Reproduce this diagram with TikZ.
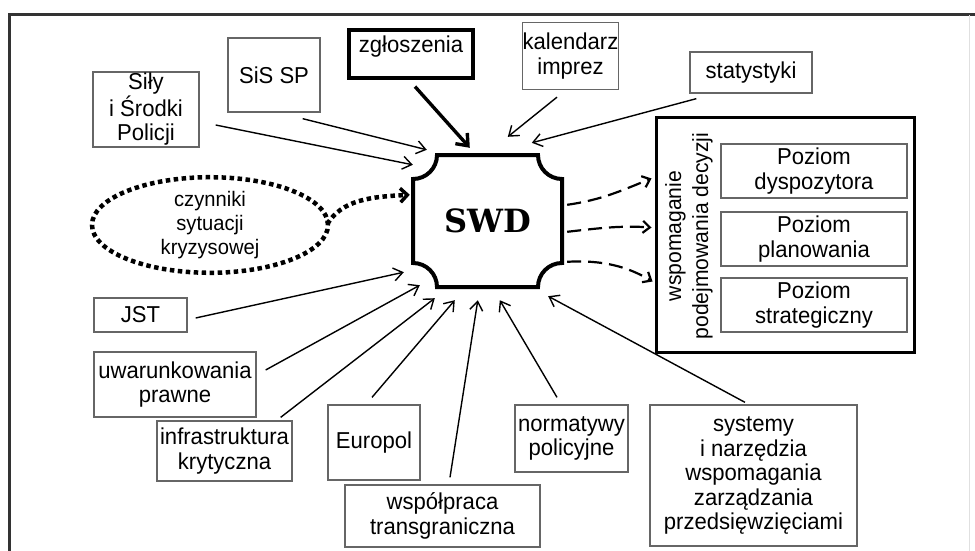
\documentclass[tikz,border=0pt]{standalone}
\usepackage{fontspec}
\setmainfont{Liberation Sans}[FakeStretch=0.96]
\newfontfamily\swdfont{DejaVu Serif}
\usetikzlibrary{arrows.meta,calc,shapes.geometric}
\begin{document}
\begin{tikzpicture}[x=1pt,y=-1pt,
  box/.style={draw=black!60, line width=1.3pt, rectangle, align=center, inner sep=0pt,
    font=\fontsize{23}{24.5}\selectfont},
  thickbox/.style={draw=black, line width=3.2pt, rectangle, inner sep=0pt},
  thinarr/.style={line width=1.4pt, -{Straight Barb[length=9pt,width=13pt,line width=1.4pt]}},
  boldarr/.style={line width=3.4pt, -{Straight Barb[length=10pt,width=16pt,line width=3.4pt]}},
  dasharr/.style={line width=2.2pt, dash pattern=on 14pt off 7pt, -{Straight Barb[length=7pt,width=12pt,line width=2.2pt]}},
  dotline/.style={line width=4.5pt, dash pattern=on 4.5pt off 3.5pt},
]
\useasboundingbox (0,0) rectangle (975,551);
% frame
\draw[line width=3pt, black!80] (9,551) -- (9,15) -- (975,15);
\draw[line width=1pt, black!12] (969,15) -- (969,551);

% boxes
\node[box, minimum width=106pt, minimum height=75pt] (sily) at (146,109.5) {Siły\\i Środki\\Policji};
\node[box, minimum width=92pt, minimum height=74pt] (sis) at (274,75) {SiS SP};
\node[thickbox, minimum width=124pt, minimum height=48pt,
  label={[anchor=north, font=\fontsize{23}{24.5}\selectfont, yshift=-4pt]north:zgłoszenia}] (zg) at (411,54) {};
\node[box, minimum width=85pt, minimum height=67pt] (kal) at (570.5,56) {kalendarz\\imprez};
\node[box, minimum width=122pt, minimum height=41pt] (stat) at (751,72.5) {statystyki};
\node[box, minimum width=93pt, minimum height=34pt] (jst) at (140.5,315) {JST};
\node[box, minimum width=162pt, minimum height=65pt] (uwa) at (175,384.5) {uwarunkowania\\prawne};
\node[box, minimum width=135pt, minimum height=60pt] (infra) at (224.5,451) {infrastruktura\\krytyczna};
\node[box, minimum width=92pt, minimum height=75pt] (euro) at (374,442.5) {Europol};
\node[box, minimum width=195pt, minimum height=62pt] (wsp) at (442.5,516) {współpraca\\transgraniczna};
\node[box, minimum width=113pt, minimum height=67pt] (norm) at (571.5,438.5) {normatywy\\policyjne};
\node[box, minimum width=207pt, minimum height=141pt] (sys) at (753.5,475.5) {systemy\\i narzędzia\\wspomagania\\zarządzania\\przedsięwzięciami};

% ellipse
\node[ellipse, dotline, draw, minimum width=236pt, minimum height=94pt, inner sep=0pt,
  align=center, font=\fontsize{21}{24}\selectfont] (ell) at (210,225) {czynniki\\sytuacji\\kryzysowej};

% SWD
\node[minimum width=149pt, minimum height=132pt, inner sep=0pt,
  font=\swdfont\bfseries\fontsize{32}{32}\selectfont] (swd) at (487.5,221) {SWD};
\draw[line width=4pt]
  (413,179) arc[start angle=90, end angle=0, radius=24]
  -- (538,155) arc[start angle=180, end angle=90, radius=24]
  -- (562,263) arc[start angle=270, end angle=180, radius=24]
  -- (437,287) arc[start angle=360, end angle=270, radius=24]
  -- cycle;

% right panel
\node[draw, line width=3pt, minimum width=258pt, minimum height=235pt, inner sep=0pt] (panel) at (785,234.5) {};
\node[rotate=90, align=center, font=\fontsize{22}{27}\selectfont] (vert) at (689,236) {wspomaganie\\podejmowania decyzji};
\node[box, minimum width=186pt, minimum height=54pt] (p1) at (814,171) {Poziom\\dyspozytora};
\node[box, minimum width=186pt, minimum height=54pt] (p2) at (814,239) {Poziom\\planowania};
\node[box, minimum width=186pt, minimum height=54pt] (p3) at (814,305) {Poziom\\strategiczny};

% arrows top
\draw[thinarr] ($(sily.east)+(16,15.5)$) -- ($(swd.north west)+(0,10)$);
\draw[thinarr] ($(sis.south east)+(-18,6)$) -- ($(swd.north west)+(14,-5)$);
\draw[boldarr] ($(zg.south)+(4,7)$) -- ($(swd.north west)+(57,-7)$);
\draw[thinarr] ($(kal.south)+(-13.5,7)$) -- ($(swd.north west)+(95,-18)$);
\draw[thinarr] ($(stat.south west)+(7,5)$) -- ($(swd.north west)+(119,-12)$);

% dotted arrow
\draw[dotline, -{Straight Barb[length=7pt,width=14pt,line width=3.5pt]}]
  ($(ell.east)+(-3,-1)$) .. controls +(15,-24) and +(-40,2) .. ($(swd.north west)+(-3,40)$);

% bottom arrows
\draw[thinarr] ($(jst.east)+(8,3)$) -- ($(swd.south west)+(-9,-15)$);
\draw[thinarr] ($(uwa.east)+(9,-14.5)$) -- ($(swd.south west)+(7,-2)$);
\draw[thinarr] ($(infra.north east)+(-12,-3)$) -- ($(swd.south west)+(22,11)$);
\draw[thinarr] ($(euro.north)+(-2,-7)$) -- ($(swd.south west)+(42,13)$);
\draw[thinarr] ($(wsp.north)+(7.5,-7)$) -- ($(swd.south west)+(65,13)$);
\draw[thinarr] ($(norm.north)+(-14.5,-7)$) -- ($(swd.south west)+(87,13)$);
\draw[thinarr] ($(sys.north)+(-8.5,-2)$) -- ($(swd.south east)+(-14,9)$);

% dashed arrows to panel
\draw[dasharr] ($(swd.north east)+(5,50)$) .. controls +(35,-5) and +(-30,12) .. ($(panel.north west)+(-3,63)$);
\draw[dasharr] ($(swd.north east)+(5,77)$) .. controls +(35,-4) and +(-30,-2) .. ($(panel.north west)+(-3,112)$);
\draw[dasharr] ($(swd.north east)+(5,107)$) .. controls +(35,-2) and +(-25,-15) .. ($(panel.north west)+(-2,166)$);
\end{tikzpicture}
\end{document}
